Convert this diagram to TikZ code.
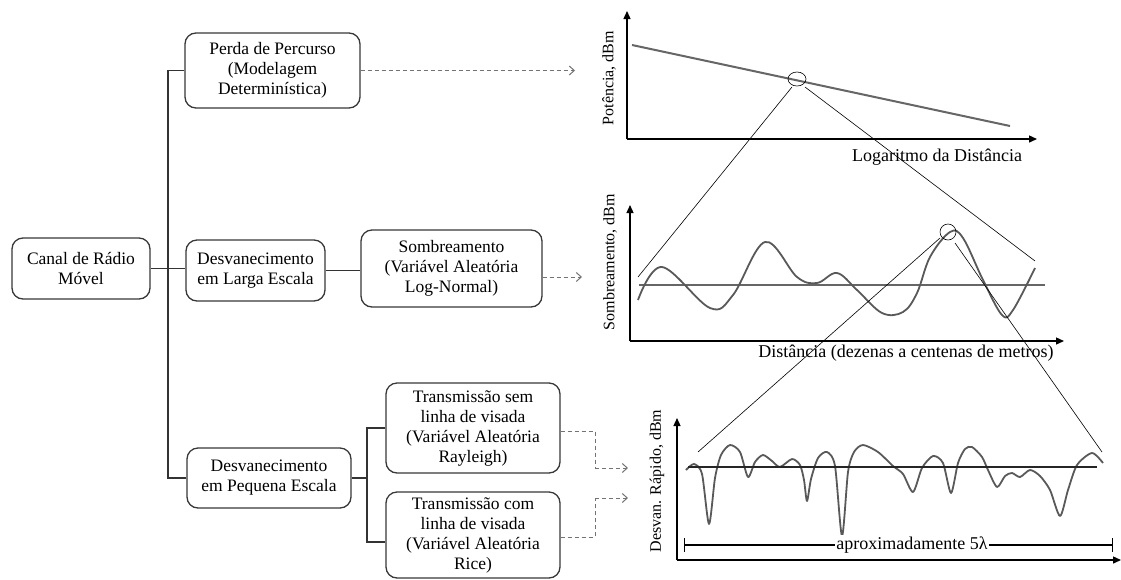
\documentclass[tikz,border=0pt]{standalone}
\usepackage{fontspec}
\setmainfont{Liberation Serif}
\usetikzlibrary{arrows.meta}
\tikzset{
  box/.style={draw=black!78, line width=1.3pt, rounded corners=11pt, align=center, inner sep=0pt,
    font=\fontsize{17.5}{20}\selectfont, text=black},
  conn/.style={draw=black!80, line width=1.2pt},
  dasharrow/.style={draw=black!55, line width=1pt, dashed, dash pattern=on 4pt off 3pt,
    -{Straight Barb[length=5pt,width=9pt,line width=1pt]}},
  dashline/.style={draw=black!55, line width=1pt, dash pattern=on 4pt off 3pt},
  axis/.style={draw=black, line width=1.3pt, -{Triangle[length=8pt,width=7pt]}},
  thin/.style={draw=black, line width=0.6pt},
  curve/.style={draw=black!65, line width=1.8pt, line join=round},
  lbl/.style={font=\fontsize{18}{20}\selectfont, inner sep=0pt, text=black},
  albl/.style={font=\fontsize{16}{18}\selectfont, inner sep=0pt, rotate=90, text=black}
}
\begin{document}
\begin{tikzpicture}[x=1pt,y=-1pt]
\useasboundingbox (0,0) rectangle (1121,579);

% ---- boxes ----
\node[box, minimum width=138pt, minimum height=61pt] (canal) at (81,268.5) {Canal de Rádio\\Móvel};
\node[box, minimum width=175pt, minimum height=75pt] (perda) at (272.5,70.5) {Perda de Percurso\\(Modelagem\\Determinística)};
\node[box, minimum width=139pt, minimum height=61pt] (larga) at (255.5,270.5) {Desvanecimento\\em Larga Escala};
\node[box, minimum width=181pt, minimum height=77pt] (somb) at (451.5,268.5) {Sombreamento\\(Variável Aleatória\\Log-Normal)};
\node[box, minimum width=164pt, minimum height=60pt] (pequena) at (269,478) {Desvanecimento\\em Pequena Escala};
\node[box, minimum width=174pt, minimum height=90pt] (rayleigh) at (473,428) {Transmissão sem\\linha de visada\\(Variável Aleatória\\Rayleigh)};
\node[box, minimum width=174pt, minimum height=86pt] (rice) at (473,535) {Transmissão com\\linha de visada\\(Variável Aleatória\\Rice)};

% ---- tree connectors ----
\coordinate (t1) at (168,70.5);
\coordinate (t2) at (168,478);
\coordinate (b) at (367,478);
\draw[conn] (perda.west) -- (t1) -- (t2) -- (pequena.west);
\draw[conn] (canal.east) -- (canal.east -| larga.west);
\draw[conn] (larga.east) -- (larga.east -| somb.west);
\draw[conn] (pequena.east) -- (b);
\draw[conn] (rayleigh.west) -| (b) |- ([yshift=-7pt]rice.west);

% ---- dashed arrows ----
\coordinate (a1) at (575,70.5);
\coordinate (a2) at (582,277);
\coordinate (a3) at (628,468);
\coordinate (a4) at (628,498);
\draw[dasharrow] (perda.east) -- (a1);
\draw[dasharrow] ([yshift=-8.5pt]somb.east) -- (a2);
\draw[dashline] ([yshift=-3pt]rayleigh.east) -- (595,431) -- (595,468);
\draw[dasharrow] (595,468) -- (a3);
\draw[dashline] ([yshift=-2pt]rice.east) -- (595,537) -- (595,498);
\draw[dasharrow] (595,498) -- (a4);

% ---- graph 1 ----
\coordinate (o1) at (627,139);
\draw[axis] (o1) -- (627,11);
\draw[axis] (o1) -- (1037,139);
\draw[draw=black!60, line width=2pt] (632,45) -- (1010,126);
\draw[thin] (797,79) ellipse (9pt and 7pt);
\draw[thin] (792,87) -- (638,277);
\draw[thin] (805,87) -- (1035,261);
\node[albl] (l1) at (609,78) {Potência, dBm};
\node[lbl] (x1) at (937,157) {Logaritmo da Distância};

% ---- graph 2 ----
\coordinate (o2) at (630,341);
\draw[axis] (o2) -- (630,205);
\draw[axis] (o2) -- (1064,341);
\draw[draw=black!60, line width=1.8pt] (639,285) -- (1045,285);
\draw[curve] plot[smooth, tension=0.6] coordinates {(638,300) (662,267) (710,308) (733,295) (765,242) (797,277) (817,283) (837,273) (857,290) (882,313) (903,312) (917,293) (930,257) (950,232) (963,238) (983,280) (1002,315) (1013,310) (1035,268)};
\draw[thin] (948,232) circle (8pt);
\draw[thin] (940,238) -- (698,452);
\draw[thin] (955,243) -- (1102,452);
\node[albl] (l2) at (610,262) {Sombreamento, dBm};
\node[lbl] (x2) at (906,353) {Distância (dezenas a centenas de metros)};

% ---- graph 3 ----
\coordinate (o3) at (677,560);
\draw[axis] (o3) -- (677,418);
\draw[axis] (o3) -- (1121,560);
\draw[curve] plot[smooth, tension=0.45] coordinates {(686,470) (694,464) (702,474) (709,524) (715,478) (721,455) (730,445) (740,452) (748,477) (755,462) (763,455) (772,461) (780,467) (792,459) (800,465) (804,480) (807,501) (811,479) (818,458) (827,452) (835,466) (842,536) (848,472) (854,452) (863,445) (878,452) (893,466) (903,474) (913,492) (922,468) (933,456) (943,463) (951,493) (958,463) (965,449) (972,447) (982,457) (988,470) (997,487) (1005,476) (1012,473) (1020,477) (1030,470) (1040,476) (1050,490) (1060,516) (1068,490) (1077,465) (1092,453) (1103,463)};
\draw[draw=black!85, line width=2.5pt] (688,467) -- (1097,467);
\node[albl] (l3) at (657,481) {Desvan. Rápido, dBm};
\coordinate (d1) at (684,545);
\coordinate (d2) at (1113,545);
\draw[draw=black, line width=1.2pt, {Bar[width=14pt]}-{Bar[width=14pt]}] (d1) -- (d2);
\node[lbl, fill=white, inner sep=1.5pt] (dim) at (912,545) {aproximadamente 5λ};
\end{tikzpicture}
\end{document}
